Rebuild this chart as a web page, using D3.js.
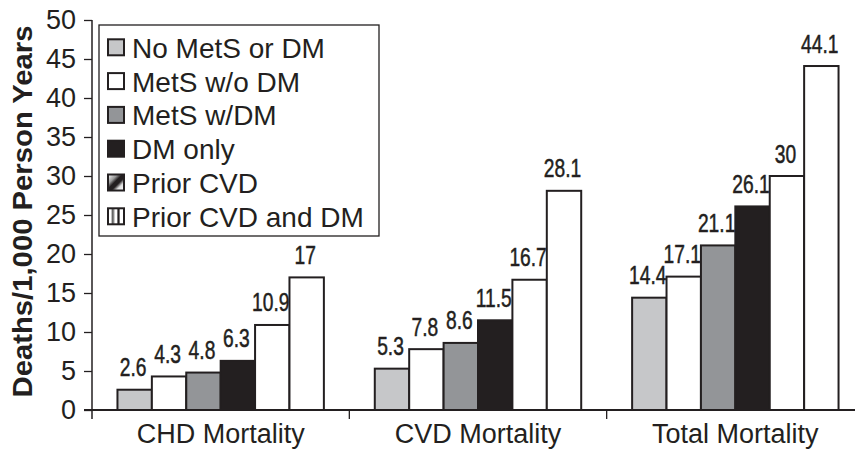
<!DOCTYPE html>
<html><head><meta charset="utf-8">
<script src="https://cdn.jsdelivr.net/npm/d3@7/dist/d3.min.js"></script>
<style>body{margin:0;background:#fff}svg{display:block}text{font-family:"Liberation Sans",Arial,sans-serif;fill:#231f20}</style>
</head><body><svg id="c" width="855" height="449"></svg>
<script>
const categories = ["CHD Mortality", "CVD Mortality", "Total Mortality"];
const series = ["No MetS or DM", "MetS w/o DM", "MetS w/DM", "DM only", "Prior CVD", "Prior CVD and DM"];
const chdValues = [2.6, 4.3, 4.8, 6.3, 10.9, 17];
const cvdValues = [5.3, 7.8, 8.6, 11.5, 16.7, 28.1];
const totalValues = [14.4, 17.1, 21.1, 26.1, 30, 44.1];
const yTicks = [0, 5, 10, 15, 20, 25, 30, 35, 40, 45, 50];
const yTitle = "Deaths/1,000 Person Years";
const valuesByCategory = [chdValues, cvdValues, totalValues];

const fills = ["#c6c7c9", "#ffffff", "#939598", "#231f20", "#ffffff", "#ffffff"];
const ink = "#231f20";

const svg = d3.select("#c");
const defs = svg.append("defs");
const pd = defs.append("linearGradient").attr("id", "gd").attr("x1", 0).attr("y1", 0).attr("x2", 1).attr("y2", 1);
[["0%","#fff"],["30%","#999"],["45%","#231f20"],["60%","#231f20"],["75%","#ddd"],["100%","#fff"]]
  .forEach(([o,c]) => pd.append("stop").attr("offset", o).attr("stop-color", c));
const pv = defs.append("linearGradient").attr("id", "gv").attr("x1", 0).attr("y1", 0).attr("x2", 1).attr("y2", 0);
[["0%","#fff"],["20%","#fff"],["25%","#555"],["35%","#888"],["45%","#fff"],["55%","#fff"],["62%","#231f20"],["70%","#231f20"],["75%","#fff"],["100%","#fff"]]
  .forEach(([o,c]) => pv.append("stop").attr("offset", o).attr("stop-color", c));
const legendFills = [fills[0], fills[1], fills[2], fills[3], "url(#gd)", "url(#gv)"];

const y = d3.scaleLinear().domain([0, 50]).range([410, 20]);
const x = d3.scaleBand().domain(categories).range([92, 864]).paddingInner(0).paddingOuter(0);
const xs = d3.scaleBand().domain(series).range([0, x.bandwidth()]).paddingInner(0).paddingOuter(0.74);

// y axis
const yAxis = d3.axisLeft(y).tickValues(yTicks).tickSize(8).tickPadding(8).tickSizeOuter(0);
const gy = svg.append("g").attr("transform", "translate(92,0)").call(yAxis);
gy.select(".domain").remove();
gy.selectAll("line").attr("stroke", ink).attr("stroke-width", 1.3);
gy.selectAll("text").attr("font-size", 27).style("fill", ink);
svg.append("line").attr("x1", 92).attr("x2", 92).attr("y1", 20).attr("y2", 419).attr("stroke", ink).attr("stroke-width", 1.5);

// bars
categories.forEach((cat, ci) => {
  const g = svg.append("g").attr("transform", `translate(${x(cat)},0)`);
  const vals = valuesByCategory[ci];
  g.selectAll("rect").data(vals).join("rect")
    .attr("x", (d, i) => xs(series[i]))
    .attr("y", d => y(d))
    .attr("width", xs.bandwidth())
    .attr("height", d => y(0) - y(d))
    .attr("fill", (d, i) => fills[i])
    .attr("stroke", ink).attr("stroke-width", 2);
  g.selectAll("g.lbl").data(vals).join("g").attr("class", "lbl")
    .attr("transform", (d, i) => `translate(${xs(series[i]) + xs.bandwidth() / 2 - 1.5},${y(d) - 13.5}) scale(0.74,1)`)
    .append("text").attr("text-anchor", "middle").attr("font-size", 26)
    .attr("stroke", ink).attr("stroke-width", 0.5).text(d => d);
});

// x axis
const xAxis = d3.axisBottom(x).tickSize(0).tickPadding(14).tickSizeOuter(0);
const gx = svg.append("g").attr("transform", "translate(0,410)").call(xAxis);
gx.select(".domain").remove();
gx.selectAll("text").attr("font-size", 27).style("fill", ink).attr("dy", "0.71em").attr("y", 14);
svg.append("line").attr("x1", 84).attr("x2", 855).attr("y1", 410).attr("y2", 410).attr("stroke", ink).attr("stroke-width", 2);
categories.slice(1).forEach(c => {
  svg.append("line").attr("x1", x(c)).attr("x2", x(c)).attr("y1", 410).attr("y2", 419).attr("stroke", ink).attr("stroke-width", 1.3);
});

// y title
svg.append("text").attr("transform", "translate(32,211.5) rotate(-90)")
  .attr("text-anchor", "middle").attr("font-size", 27).attr("font-weight", "bold")
  .attr("textLength", 372).attr("lengthAdjust", "spacingAndGlyphs").text(yTitle);

// legend
const lg = svg.append("g");
lg.append("rect").attr("x", 99).attr("y", 25).attr("width", 280).attr("height", 211)
  .attr("fill", "#fff").attr("stroke", ink).attr("stroke-width", 1.3);
series.forEach((s, i) => {
  const cy = 47.8 + i * 33.8;
  lg.append("rect").attr("x", 108).attr("y", cy - 8.5).attr("width", 16).attr("height", 16)
    .attr("fill", legendFills[i]).attr("stroke", ink).attr("stroke-width", 2);
  lg.append("text").attr("x", 132).attr("y", cy).attr("dy", "0.36em").attr("font-size", 28).text(s);
});
</script></body></html>
